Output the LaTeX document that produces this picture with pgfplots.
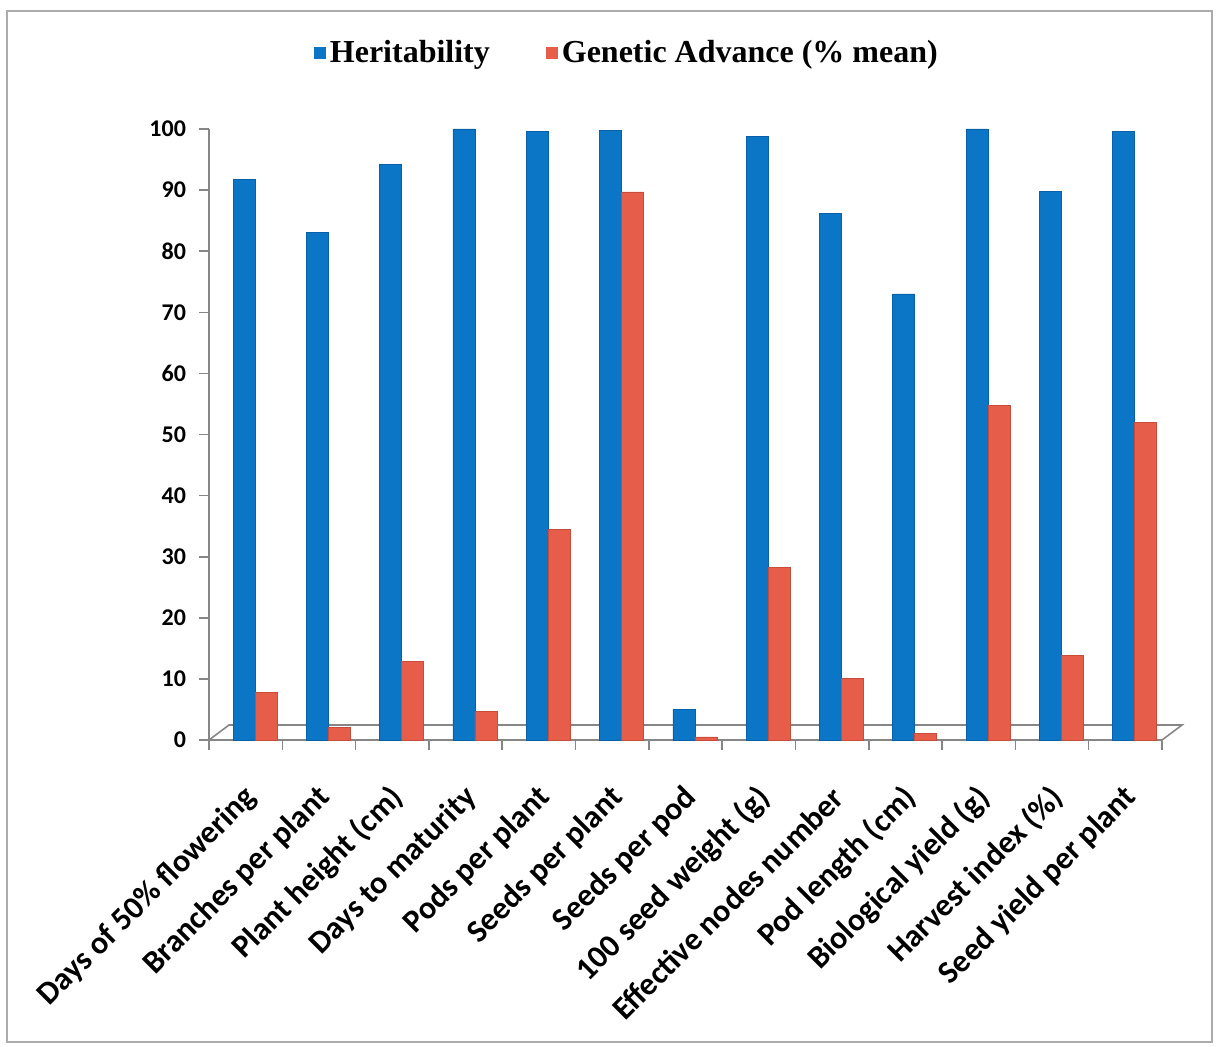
\documentclass[border=0pt]{standalone}
\usepackage{pgfplots}
\pgfplotsset{compat=1.18}
\usepackage{fontspec}
\setmainfont{Liberation Serif}
\newfontfamily\labelfont{Carlito}

\definecolor{herit}{RGB}{12,118,198}
\definecolor{heritdraw}{RGB}{8,96,170}
\definecolor{gena}{RGB}{230,94,74}
\definecolor{genadraw}{RGB}{200,76,60}
\definecolor{axisgray}{RGB}{134,134,134}

\begin{document}
\begin{tikzpicture}
\useasboundingbox (0,0) rectangle (608.5pt,523pt);
\draw[gray!65, line width=1pt] (3.5pt,2pt) rectangle (606pt,517.5pt);
\begin{axis}[
  at={(104.5pt,153pt)}, anchor=south west,
  scale only axis, width=476.5pt, height=305.5pt,
  xmin=-0.5, xmax=12.5, ymin=0, ymax=100,
  clip=false,
  ybar=0pt, bar width=11pt,
  axis x line*=bottom, axis y line*=left,
  axis line style={axisgray, line width=0.8pt, -},
  ytick={0,10,...,100},
  xtick={0,...,12},
  xticklabels={Days of 50\% flowering, Branches per plant, Plant height (cm),
    Days to maturity, Pods per plant, Seeds per plant, Seeds per pod,
    100 seed weight (g), Effective nodes number, Pod length (cm),
    Biological yield (g), Harvest index (\%), Seed yield per plant},
  minor xtick={-0.5,0.5,...,12.5},
  tick align=outside,
  major tick length=5pt, minor tick length=5pt,
  tick style={axisgray, line width=0.8pt},
  major x tick style={draw=none},
  /pgf/number format/assume math mode=true,
  yticklabel style={font=\labelfont\bfseries\fontsize{12}{14}\selectfont, xshift=-3pt},
  xticklabel style={font=\labelfont\bfseries\fontsize{16}{19}\selectfont,
    anchor=east, xshift=5.5pt, yshift=-19pt, rotate=45},
  legend style={at={(0.4395,1.124)}, anchor=center, draw=none, fill=none,
    font=\bfseries\fontsize{16}{19}\selectfont, legend columns=2,
    /tikz/every even column/.append style={column sep=26pt}},
  legend image code/.code={\draw[#1,draw=none] (0pt,-3pt) rectangle (6pt,3pt);},
]
% floor of the plot area
\draw[axisgray, line width=0.8pt] (rel axis cs:0,0) -- ++(10pt,7.5pt) -- ++(476.5pt,0pt) -- (rel axis cs:1,0);

\addplot[draw=heritdraw, fill=herit, bar shift=-0.8pt]
  coordinates {(0,91.8) (1,83.0) (2,94.2) (3,100) (4,99.6) (5,99.7) (6,5.0)
    (7,98.8) (8,86.2) (9,73.0) (10,100) (11,89.8) (12,99.6)};
\addlegendentry{Heritability}

\addplot[draw=genadraw, fill=gena, bar shift=10.2pt]
  coordinates {(0,7.8) (1,2.0) (2,12.9) (3,4.7) (4,34.4) (5,89.7) (6,0.5)
    (7,28.3) (8,10.1) (9,1.0) (10,54.8) (11,13.9) (12,52.0)};
\addlegendentry{Genetic Advance (\% mean)}
\end{axis}
\end{tikzpicture}
\end{document}
